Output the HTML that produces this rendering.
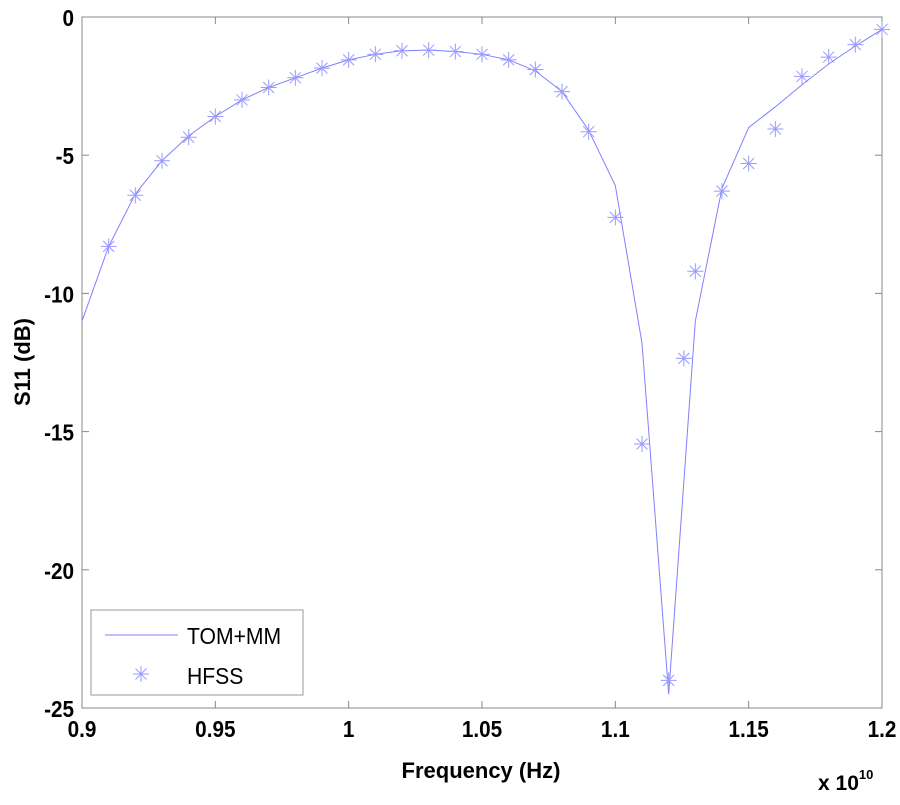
<!DOCTYPE html>
<html><head><meta charset="utf-8"><style>
body{margin:0;background:#fff;}
svg text{font-family:"Liberation Sans",Arial,sans-serif;font-weight:bold;fill:#000;}
</style></head><body>
<svg id="chart" width="900" height="800" viewBox="0 0 900 800" xmlns="http://www.w3.org/2000/svg">
<rect x="0" y="0" width="900" height="800" fill="#fff"/>
<g id="axes"></g>
<g id="series"></g>
<g id="legend">
  <rect x="91" y="610" width="212" height="85" fill="#fff" stroke="#999" stroke-width="1"/>
  <line x1="105" y1="635" x2="178" y2="635" stroke="#8080ff" stroke-width="1"/>
  <text x="187" y="644" font-size="23" transform="translate(187,0) scale(0.92,1) translate(-187,0)" style="font-weight:normal">TOM+MM</text>
  <g id="legstar"></g>
  <text x="187" y="684" font-size="23" transform="translate(187,0) scale(0.92,1) translate(-187,0)" style="font-weight:normal">HFSS</text>
</g>
<text x="481" y="778" font-size="22" text-anchor="middle">Frequency (Hz)</text>
<text x="818" y="790" font-size="21">x 10<tspan dy="-11" font-size="13">10</tspan></text>
<text transform="translate(30,362) rotate(-90)" font-size="22" text-anchor="middle">S11 (dB)</text>
</svg>
<script>
const lineFreq=[0.9,0.91,0.92,0.93,0.94,0.95,0.96,0.97,0.98,0.99,1.0,1.01,1.02,1.03,1.04,1.05,1.06,1.07,1.08,1.09,1.1,1.11,1.12,1.13,1.14,1.15,1.16,1.17,1.18,1.19,1.2];
const lineS11=[-11,-8.3,-6.4,-5.2,-4.3,-3.6,-3.0,-2.55,-2.2,-1.85,-1.55,-1.35,-1.22,-1.2,-1.25,-1.35,-1.55,-1.95,-2.7,-4.1,-6.1,-11.8,-24.5,-11,-6.2,-4.0,-3.25,-2.45,-1.7,-1.05,-0.45];
const hfssFreq=[0.91,0.92,0.93,0.94,0.95,0.96,0.97,0.98,0.99,1.0,1.01,1.02,1.03,1.04,1.05,1.06,1.07,1.08,1.09,1.1,1.11,1.12,1.1257,1.13,1.14,1.15,1.16,1.17,1.18,1.19,1.2];
const hfssS11=[-8.3,-6.45,-5.2,-4.35,-3.6,-3.0,-2.55,-2.2,-1.85,-1.55,-1.35,-1.22,-1.2,-1.25,-1.35,-1.55,-1.9,-2.7,-4.15,-7.25,-15.45,-24.0,-12.35,-9.2,-6.3,-5.3,-4.05,-2.15,-1.45,-1.0,-0.45];
const xTicks=[0.9,0.95,1,1.05,1.1,1.15,1.2];
const xTickLabels=["0.9","0.95","1","1.05","1.1","1.15","1.2"];
const yTicks=[0,-5,-10,-15,-20,-25];
const yTickLabels=["0","-5","-10","-15","-20","-25"];

const L=82,R=882,T=17,B=708;
const X=v=>L+(v-0.9)/0.3*(R-L);
const Y=v=>T+(0-v)/25*(B-T);
const NS="http://www.w3.org/2000/svg";
function mk(tag,attrs,parent){const e=document.createElementNS(NS,tag);for(const k in attrs)e.setAttribute(k,attrs[k]);parent.appendChild(e);return e;}
const axes=document.getElementById('axes');
const frame=mk('rect',{x:L,y:T,width:R-L,height:B-T,fill:'none',stroke:'#888','stroke-width':1},axes);


xTicks.forEach((t,i)=>{
  const x=X(t);
  const a=mk('line',{x1:x,y1:B,x2:x,y2:B-7,stroke:'#888'},axes);
  
  
  mk('line',{x1:x,y1:T,x2:x,y2:T+7,stroke:'#888'},axes);
  const tx=mk('text',{x:x,y:B+29,'font-size':23,'text-anchor':'middle',transform:`translate(${x},0) scale(0.9,1) translate(${-x},0)`},axes);
  tx.textContent=xTickLabels[i];
  
  
});
yTicks.forEach((t,i)=>{
  const y=Y(t);
  const a=mk('line',{x1:L,y1:y,x2:L+7,y2:y,stroke:'#888'},axes);
  
  
  mk('line',{x1:R,y1:y,x2:R-7,y2:y,stroke:'#888'},axes);
  const xe=L-8;
  const tx=mk('text',{x:xe,y:y+9,'font-size':23,'text-anchor':'end',transform:`translate(${xe},0) scale(0.9,1) translate(${-xe},0)`},axes);
  tx.textContent=yTickLabels[i];
  
  
});
const ser=document.getElementById('series');
const pts=lineFreq.map((f,i)=>X(f)+','+Y(lineS11[i])).join(' ');
const pl=mk('polyline',{points:pts,fill:'none',stroke:'#8080ff','stroke-width':1},ser);


function star(cx,cy,parent){
  const g=mk('g',{stroke:'#9a9aff','stroke-width':1},parent);
  const r=8,d=5.5;
  mk('line',{x1:cx-r,y1:cy,x2:cx+r,y2:cy},g);
  mk('line',{x1:cx,y1:cy-r,x2:cx,y2:cy+r},g);
  mk('line',{x1:cx-d,y1:cy-d,x2:cx+d,y2:cy+d},g);
  mk('line',{x1:cx-d,y1:cy+d,x2:cx+d,y2:cy-d},g);
  return g;
}
hfssFreq.forEach((f,i)=>{
  const g=star(X(f),Y(hfssS11[i]),ser);
  
  
});
star(141,674,document.getElementById('legstar'));
</script>
</body></html>
